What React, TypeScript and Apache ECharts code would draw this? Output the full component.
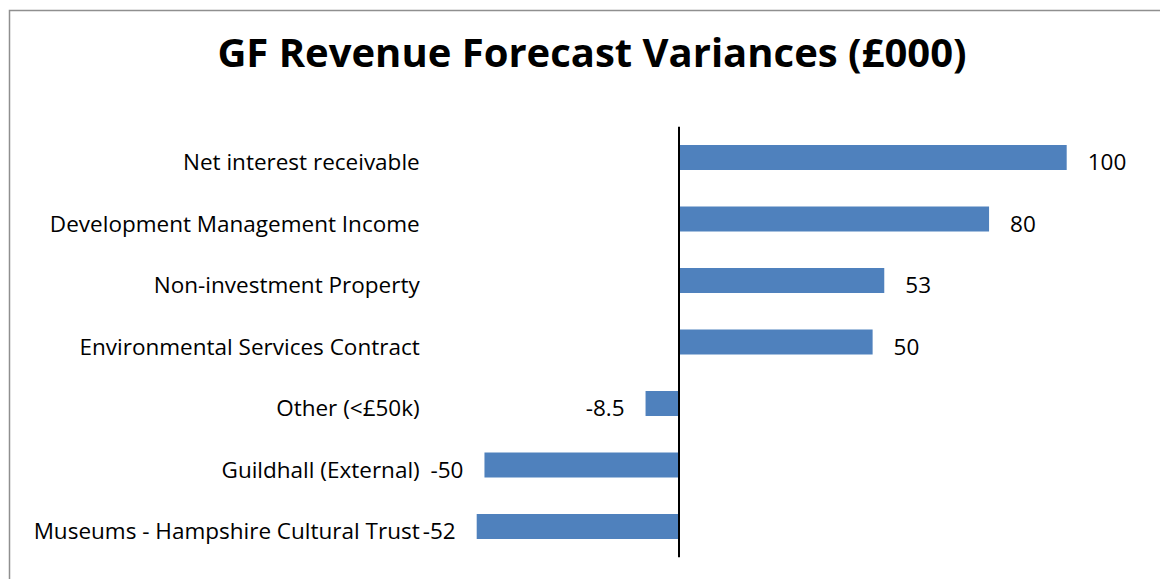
import React, { useEffect, useRef } from "react";
import * as echarts from "echarts";

const categories = [
  "Net interest receivable",
  "Development Management Income",
  "Non-investment Property",
  "Environmental Services Contract",
  "Other (<£50k)",
  "Guildhall (External)",
  "Museums - Hampshire Cultural Trust",
];
const values = [100, 80, 53, 50, -8.5, -50, -52];
const titleText = "GF Revenue Forecast Variances (£000)";

const FONT = "Open Sans";

export default function App() {
  const ref = useRef<HTMLDivElement>(null);
  useEffect(() => {
    document.body.style.margin = "0";
    const chart = echarts.init(ref.current!, undefined, { renderer: "svg" });
    chart.setOption({
      animation: false,
      backgroundColor: "#fff",
      textStyle: { fontFamily: FONT },
      title: {
        text: titleText,
        left: 587,
        top: 26,
        textAlign: "center",
        textStyle: { fontFamily: FONT, fontWeight: "bold", fontSize: 40, color: "#000" },
      },
      graphic: [
        {
          type: "rect",
          shape: { x: 9.5, y: 10.5, width: 1300, height: 700 },
          style: { fill: "none", stroke: "#8f8f8f", lineWidth: 1.5 },
          silent: true,
        },
      ],
      grid: { left: 476.7, right: 93.3, top: 126.75, height: 430.5, containLabel: false },
      xAxis: {
        type: "value",
        min: -52,
        max: 100,
        show: false,
      },
      yAxis: {
        type: "category",
        data: categories,
        inverse: true,
        axisLine: { show: false },
        axisTick: { show: false },
        splitLine: { show: false },
        axisLabel: {
          margin: 57,
          color: "#000",
          fontFamily: FONT,
          fontSize: 22.5,
          formatter: (v: string) => `{a|${v}}`,
          rich: {
            a: {
              fontSize: 22.5,
              fontFamily: FONT,
              color: "#000",
              lineHeight: 31,
              verticalAlign: "bottom",
            },
          },
        },
      },
      series: [
        {
          type: "bar",
          barWidth: 25,
          itemStyle: { color: "#4F81BD" },
          data: values.map((v) => ({
            value: v,
            label: { position: v < 0 ? "left" : "right" },
          })),
          label: {
            show: true,
            distance: 21,
            fontSize: 22.5,
            color: "#000",
            fontFamily: FONT,
            offset: [0, 4],
          },
          markLine: {
            silent: true,
            symbol: "none",
            label: { show: false },
            lineStyle: { color: "#000", width: 2, type: "solid" },
            data: [{ xAxis: 0 }],
          },
        },
      ],
    });
    return () => chart.dispose();
  }, []);
  return <div ref={ref} style={{ width: 1160, height: 579 }} />;
}
